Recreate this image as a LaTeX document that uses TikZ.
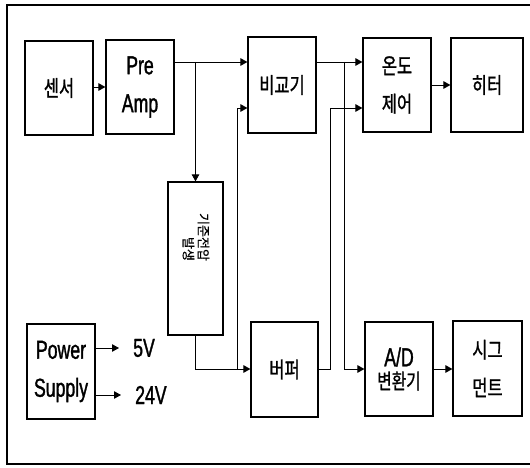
\documentclass[tikz,border=0pt]{standalone}
\usepackage{fontspec}
\setmainfont[FakeStretch=0.68,FakeBold=1.2]{Liberation Sans}
\newfontfamily\kr[FakeStretch=0.75,FakeBold=1.2]{Noto Sans CJK KR}
\newfontfamily\krs[FakeBold=0.6]{Noto Sans CJK KR}
\usetikzlibrary{arrows.meta}
\begin{document}
\begin{tikzpicture}[x=1pt,y=-1pt,
  box/.style={draw,line width=1.2pt,inner sep=0pt,align=center},
  lat/.style={font=\fontsize{26}{38}\selectfont},
  kor/.style={font=\kr\fontsize{22}{38}\selectfont},
  arr/.style={line width=0.9pt,-{Triangle[length=7pt,width=7.5pt]}},
  wire/.style={line width=0.9pt}]
\useasboundingbox (0,0) rectangle (530,468);
\draw[line width=2pt] (530,5) -- (7,5) -- (7,464) -- (530,464);
% boxes
\node[box,kor,minimum width=68,minimum height=94] (sensor) at (59,88) {센서};
\node[box,lat,minimum width=68,minimum height=94] (preamp) at (140,87) {Pre\\Amp};
\node[box,kor,minimum width=68,minimum height=96] (comp) at (282,85) {비교기};
\node[box,kor,minimum width=68,minimum height=94] (temp) at (397,85) {온도\\제어};
\node[box,kor,minimum width=72,minimum height=94] (heater) at (487,85) {히터};
\node[box,minimum width=55,minimum height=153] (ref) at (195.5,258.5) {};
\node[rotate=-90,align=right,inner sep=0pt,font=\krs\fontsize{13}{15}\selectfont] (reftxt) at (196,237) {기준전압\\발생};
\node[box,lat,minimum width=68,minimum height=95] (power) at (61,371.5) {Power\\Supply};
\node[box,kor,minimum width=67,minimum height=95] (buffer) at (284.5,369.5) {버퍼};
\node[box,minimum width=68,minimum height=94,align=center] (ad) at (399,369) {\fontsize{26}{30}\selectfont A/D\\[4pt]\kr\fontsize{21}{30}\selectfont 변환기};
\node[box,kor,minimum width=69,minimum height=95] (seg) at (487.5,368.5) {시그\\먼트};
% labels
\node[lat,anchor=west,inner sep=0pt] (v5) at (133,348) {5V};
\node[lat,anchor=west,inner sep=0pt] (v24) at (135,395) {24V};
% wire levels
\coordinate (yA) at (0,62);
\coordinate (yB) at (0,108);
\coordinate (yC) at (0,369);
\coordinate (xr) at (237,0);
\coordinate (xb) at (330,0);
\coordinate (xc) at (344,0);
% connectors
\draw[arr] (sensor.east |- preamp.east) -- (preamp.west);
\draw[arr] (preamp.east |- yA) -- (comp.west |- yA);
\draw[arr] (ref.north |- yA) -- (ref.north);
\draw[arr] (ref.south) -- (ref.south |- yC) -- (buffer.west |- yC);
\draw[arr] (xr |- yC) -- (xr |- yB) -- (comp.west |- yB);
\draw[arr] (comp.east |- yA) -- (temp.west |- yA);
\draw[arr] (xc |- yA) -- (xc |- yC) -- (ad.west |- yC);
\draw[arr] (buffer.east |- yC) -- (xb |- yC) -- (xb |- yB) -- (temp.west |- yB);
\draw[arr] (temp.east |- heater.west) -- (heater.west);
\draw[arr] (ad.east |- yC) -- (seg.west |- yC);
\draw[arr] (power.east |- v5) -- ([xshift=-14pt]v5.west);
\draw[arr] (power.east |- v24) -- ([xshift=-14pt]v24.west);
\end{tikzpicture}
\end{document}
